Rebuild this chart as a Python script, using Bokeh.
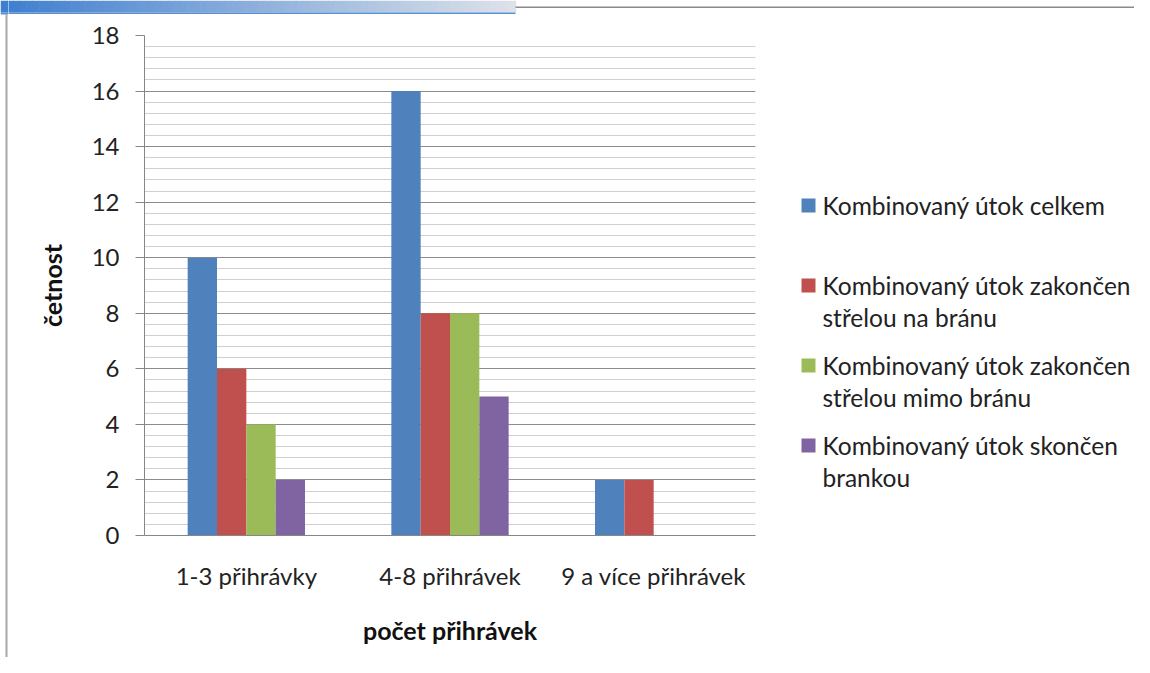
from bokeh.plotting import figure
from bokeh.models import ColumnDataSource, FactorRange, FixedTicker, Range1d
from bokeh.layouts import column, row
from bokeh.transform import dodge
from bokeh.core.properties import value
from bokeh.embed import file_html
from bokeh.resources import INLINE

# ---- data ----
categories = ["1-3 přihrávky", "4-8 přihrávek", "9 a více přihrávek"]
celkem = [10, 16, 2]
na_branu = [6, 8, 2]
mimo_branu = [4, 8, 0]
brankou = [2, 5, 0]
series_names = [
    "Kombinovaný útok celkem",
    "Kombinovaný útok zakončen\nstřelou na bránu",
    "Kombinovaný útok zakončen\nstřelou mimo bránu",
    "Kombinovaný útok skončen\nbrankou",
]
colors = ["#4F81BD", "#C0504D", "#9BBB59", "#8064A2"]
y_ticks = list(range(0, 19, 2))
y_minor = [round(i * 0.4, 2) for i in range(0, 46)]
x_title = "počet přihrávek"
y_title = "četnost"

FONT = "Lato"
FS = "24px"
FS_TITLE = "25px"
FS_LEG = "24.5px"

W, H = 1134, 657
TOP_H = 14
LEFT_W = 8
MAIN_W = 800 - LEFT_W
LEG_W = W - 800
BODY_H = H - TOP_H
FRAME_TOP, FRAME_BOTTOM = 35, 535


def deco_fig(width, height, x0, x1, y0, y1):
    f = figure(width=width, height=height, x_range=Range1d(x0, x1),
               y_range=Range1d(y1, y0), output_backend="svg",
               toolbar_location=None, x_axis_location=None,
               y_axis_location=None, min_border=0)
    f.outline_line_color = None
    f.grid.visible = False
    f.background_fill_color = "white"
    f.border_fill_color = "white"
    return f


# header gradient colours
n = 80
c0 = (0x3F, 0x7F, 0xD0)
c1 = (0xDD, 0xE2, 0xE9)
gl, gr, gc = [], [], []
for k in range(n):
    t = k / (n - 1)
    c = tuple(int(c0[m] + (c1[m] - c0[m]) * t) for m in range(3))
    gl.append(515 * k / n)
    gr.append(515 * (k + 1) / n + 0.6)
    gc.append("#%02x%02x%02x" % c)

# ---- left strip (full height) ----
left = deco_fig(LEFT_W, H, 0, LEFT_W, 0, H)
left.quad(left=gl, right=gr, top=0, bottom=12, fill_color=gc, line_color=None)
left.quad(left=0, right=LEFT_W, top=12, bottom=14, fill_color="#5A8FD2",
          line_color=None)
left.quad(left=5, right=7, top=TOP_H, bottom=H, fill_color="#a8a8a8",
          line_color=None)

# ---- top strip ----
top = deco_fig(W - LEFT_W, TOP_H, LEFT_W, W, 0, TOP_H)
top.quad(left=gl, right=gr, top=0, bottom=12, fill_color=gc, line_color=None)
top.quad(left=0, right=515, top=12, bottom=14, fill_color="#5A8FD2",
         line_color=None)
top.quad(left=515, right=W, top=6, bottom=7.5, fill_color="#8a8a8a",
         line_color=None)

# ---- main chart ----
src = ColumnDataSource(dict(cat=categories, s0=celkem, s1=na_branu,
                            s2=mimo_branu, s3=brankou))

p = figure(x_range=FactorRange(*categories), y_range=(0, 18),
           width=MAIN_W, height=BODY_H, output_backend="svg",
           toolbar_location=None,
           min_border_left=144 - LEFT_W, min_border_right=800 - 755,
           min_border_top=FRAME_TOP - TOP_H, min_border_bottom=H - FRAME_BOTTOM)
p.outline_line_color = None
p.background_fill_color = "white"
p.border_fill_color = "white"

bw = 0.144
offs = [-1.5 * bw, -0.5 * bw, 0.5 * bw, 1.5 * bw]
for i, (key, col) in enumerate(zip(["s0", "s1", "s2", "s3"], colors)):
    p.vbar(x=dodge("cat", offs[i], range=p.x_range), top=key, width=bw,
           source=src, fill_color=col, line_color=None)

p.yaxis.ticker = FixedTicker(ticks=y_ticks, minor_ticks=y_minor)
p.yaxis.axis_line_color = "#868686"
p.yaxis.major_tick_line_color = "#868686"
p.yaxis.major_tick_out = 9
p.yaxis.major_tick_in = 0
p.yaxis.minor_tick_line_color = None
p.yaxis.major_label_standoff = 16
p.yaxis.major_label_text_font = FONT
p.yaxis.major_label_text_font_size = FS
p.yaxis.major_label_text_color = "#222222"
p.yaxis.axis_label = y_title
p.yaxis.axis_label_text_font = FONT
p.yaxis.axis_label_text_font_style = "bold"
p.yaxis.axis_label_text_font_size = FS_TITLE
p.yaxis.axis_label_text_color = "#111111"
p.yaxis.axis_label_standoff = 22

p.ygrid.grid_line_color = "#8c8c8c"
p.ygrid.minor_grid_line_color = "#cfcfcf"
p.xgrid.grid_line_color = None

p.xaxis.axis_line_color = "#868686"
p.xaxis.major_tick_line_color = None
p.xaxis.minor_tick_line_color = None
p.xaxis.major_tick_out = 0
p.xaxis.major_label_standoff = 25
p.xaxis.major_label_text_font = FONT
p.xaxis.major_label_text_font_size = FS
p.xaxis.major_label_text_color = "#222222"
p.xaxis.axis_label = x_title
p.xaxis.axis_label_text_font = FONT
p.xaxis.axis_label_text_font_style = "bold"
p.xaxis.axis_label_text_font_size = FS_TITLE
p.xaxis.axis_label_text_color = "#111111"
p.xaxis.axis_label_standoff = 22

# ---- legend panel (its frame is aligned with the chart frame) ----
leg = deco_fig(LEG_W, BODY_H, 800, W, FRAME_TOP, FRAME_BOTTOM)
leg_y = [205, 285, 365, 445]
line_gap = 31.5
sq_x, sq_y, sq_c = [], [], []
tx, ty, tt = [], [], []
for name, col, y0 in zip(series_names, colors, leg_y):
    sq_x.append(808)
    sq_y.append(y0)
    sq_c.append(col)
    for j, line in enumerate(name.split("\n")):
        tx.append(822)
        ty.append(y0 + j * line_gap)
        tt.append(line)
leg.rect(x=sq_x, y=sq_y, width=14, height=14, fill_color=sq_c,
         line_color=None)
leg.text(x=tx, y=ty, text=tt, text_font=value(FONT),
         text_font_size=value(FS_LEG), text_color="#222222",
         text_baseline="middle", text_align="left")

layout = row(left, column(top, row(p, leg)))
open("out.html", "w").write(file_html(layout, INLINE))
